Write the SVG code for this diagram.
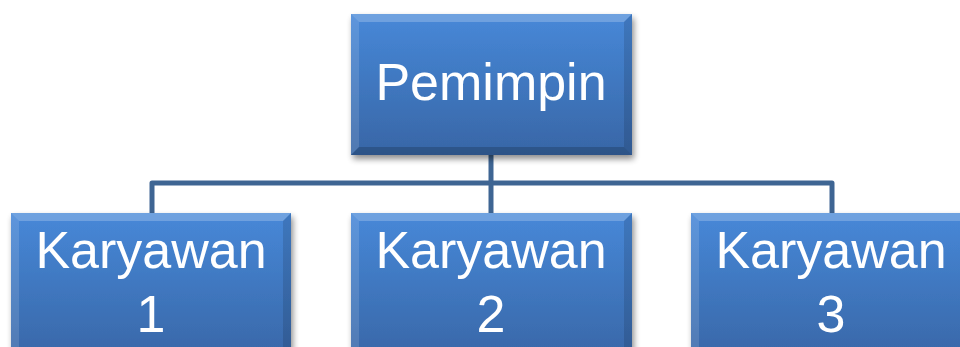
<svg xmlns="http://www.w3.org/2000/svg" width="960" height="347" viewBox="0 0 960 347">
<defs>
<linearGradient id="g" x1="0" y1="0" x2="0" y2="1">
<stop offset="0" stop-color="#4788D8"/>
<stop offset="1" stop-color="#3866A6"/>
</linearGradient>
<filter id="sh" x="-10%" y="-10%" width="125%" height="130%">
<feGaussianBlur in="SourceAlpha" stdDeviation="3"/>
<feOffset dx="2" dy="4" result="b"/>
<feComponentTransfer><feFuncA type="linear" slope="0.45"/></feComponentTransfer>
<feMerge><feMergeNode/><feMergeNode in="SourceGraphic"/></feMerge>
</filter>
</defs>
<style>
.box{fill:url(#g);filter:url(#sh)}
.bt{fill:#ffffff;opacity:0.22}
.bl{fill:#ffffff;opacity:0.12}
.bb{fill:#000000;opacity:0.18}
.br{fill:#000000;opacity:0.12}
.t{font-family:"Liberation Sans",Arial,sans-serif;font-size:52px;fill:#ffffff;text-anchor:middle}
.c{fill:none;stroke:#3E6593;stroke-width:5;stroke-linejoin:round}
</style>
<g id="connectors">
<path class="c" d="M491 155 V183"/>
<path class="c" d="M152 213 V183 H832 V213"/>
<path class="c" d="M491 183 V213"/>
</g>
<g id="pemimpin">
<rect class="box" x="351" y="14" width="281" height="141"/>
<polygon class="bt" points="351,14 632,14 624,22 359,22"/>
<polygon class="bl" points="351,14 359,22 359,147 351,155"/>
<polygon class="bb" points="351,155 359,147 624,147 632,155"/>
<polygon class="br" points="632,14 632,155 624,147 624,22"/>
<text class="t" x="491" y="100">Pemimpin</text>
</g>
<g id="karyawan1">
<rect class="box" x="11" y="213" width="280" height="150"/>
<polygon class="bt" points="11,213 291,213 283,221 19,221"/>
<polygon class="bl" points="11,213 19,221 19,347 11,347"/>
<polygon class="br" points="291,213 291,347 283,347 283,221"/>
<text class="t" x="151" y="268">Karyawan</text>
<text class="t" x="151" y="332">1</text>
</g>
<g id="karyawan2">
<rect class="box" x="351" y="213" width="281" height="150"/>
<polygon class="bt" points="351,213 632,213 624,221 359,221"/>
<polygon class="bl" points="351,213 359,221 359,347 351,347"/>
<polygon class="br" points="632,213 632,347 624,347 624,221"/>
<text class="t" x="491" y="268">Karyawan</text>
<text class="t" x="491" y="332">2</text>
</g>
<g id="karyawan3">
<rect class="box" x="691" y="213" width="281" height="150"/>
<polygon class="bt" points="691,213 972,213 964,221 699,221"/>
<polygon class="bl" points="691,213 699,221 699,347 691,347"/>
<text class="t" x="831" y="268">Karyawan</text>
<text class="t" x="831" y="332">3</text>
</g>
</svg>
